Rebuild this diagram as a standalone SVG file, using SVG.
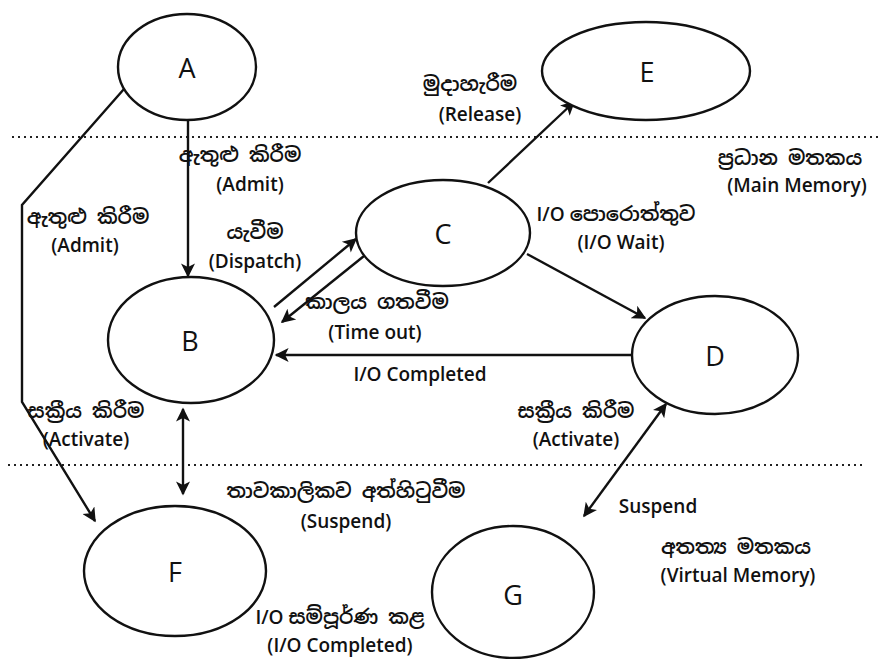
<svg xmlns="http://www.w3.org/2000/svg" width="879" height="659" viewBox="0 0 879 659">
  <defs>
    <marker id="arr" viewBox="0 0 10 10" refX="9" refY="5" markerWidth="16" markerHeight="14" orient="auto-start-reverse" markerUnits="userSpaceOnUse">
      <path d="M0,0 L10,5 L0,10 L2.5,5 z" fill="#111"/>
    </marker>
    <style>
      .node ellipse { fill: #fff; stroke: #111; stroke-width: 2.4; }
      .node text { font-family: "Open Sans", "Noto Sans", "Liberation Sans", sans-serif; font-size: 27px; font-weight: 500; fill: #111; text-anchor: middle; dominant-baseline: central; }
      .edge { fill: none; stroke: #111; stroke-width: 2.4; }
      .lbl { font-family: "Open Sans", "Noto Sans", "Noto Sans Sinhala", "Liberation Sans", sans-serif; font-size: 19px; font-weight: 600; fill: #111; text-anchor: middle; }
      .si { font-family: "Noto Sans Sinhala", "Noto Serif Sinhala", "Iskoola Pota", "Noto Sans", sans-serif; font-size: 20px; font-weight: 600; }
      .sep { stroke: #222; stroke-width: 1.8; stroke-dasharray: 2 4; }
    </style>
  </defs>
  <rect width="879" height="659" fill="#fff"/>

  <!-- memory boundaries -->
  <line class="sep" x1="12" y1="137" x2="879" y2="137"/>
  <line class="sep" x1="8" y1="465" x2="862" y2="465"/>

  <!-- connectors -->
  <g id="edges">
    <line class="edge" x1="188" y1="120" x2="188" y2="276" marker-end="url(#arr)"/>
    <polyline class="edge" points="124,89 22,205 22,402 95,521" marker-end="url(#arr)"/>
    <line class="edge" x1="274" y1="307" x2="356" y2="239" marker-end="url(#arr)"/>
    <line class="edge" x1="364" y1="256" x2="282" y2="322" marker-end="url(#arr)"/>
    <line class="edge" x1="488" y1="183" x2="574" y2="102" marker-end="url(#arr)"/>
    <line class="edge" x1="527" y1="254" x2="645" y2="318" marker-end="url(#arr)"/>
    <line class="edge" x1="632" y1="355" x2="276" y2="355" marker-end="url(#arr)"/>
    <line class="edge" x1="183" y1="409" x2="183" y2="494" marker-start="url(#arr)" marker-end="url(#arr)"/>
    <line class="edge" x1="666" y1="404" x2="584" y2="516" marker-start="url(#arr)" marker-end="url(#arr)"/>
  </g>

  <!-- states -->
  <g id="A" class="node"><ellipse cx="187" cy="67" rx="69" ry="53"/><text x="187" y="67">A</text></g>
  <g id="E" class="node"><ellipse cx="646" cy="71" rx="104" ry="49"/><text x="647" y="71">E</text></g>
  <g id="C" class="node"><ellipse cx="443" cy="233" rx="87" ry="53"/><text x="443" y="233">C</text></g>
  <g id="B" class="node"><ellipse cx="191" cy="340" rx="83" ry="63"/><text x="190" y="340">B</text></g>
  <g id="D" class="node"><ellipse cx="715" cy="355" rx="83" ry="59"/><text x="715" y="355">D</text></g>
  <g id="F" class="node"><ellipse cx="175" cy="571" rx="91" ry="65"/><text x="175" y="571">F</text></g>
  <g id="G" class="node"><ellipse cx="513" cy="592" rx="81" ry="66"/><text x="513" y="594">G</text></g>

  <!-- labels -->
  <g id="labels">
    <text class="lbl si" x="240" y="162">ඇතුළු කිරීම</text>
    <text class="lbl" x="250" y="191">(Admit)</text>
    <text class="lbl si" x="88" y="224">ඇතුළු කිරීම</text>
    <text class="lbl" x="85" y="252">(Admit)</text>
    <text class="lbl si" x="470" y="91">මුදාහැරීම</text>
    <text class="lbl" x="480" y="121">(Release)</text>
    <text class="lbl si" x="790" y="165">ප්‍රධාන මතකය</text>
    <text class="lbl" x="797" y="192">(Main Memory)</text>
    <text class="lbl si" x="255" y="239">යැවීම</text>
    <text class="lbl" x="255" y="268">(Dispatch)</text>
    <text class="lbl" x="616" y="221">I/O <tspan class="si">පොරොත්තුව</tspan></text>
    <text class="lbl" x="621" y="249">(I/O Wait)</text>
    <text class="lbl si" x="377" y="309">කාලය ගතවීම</text>
    <text class="lbl" x="375" y="339">(Time out)</text>
    <text class="lbl" x="420" y="381">I/O Completed</text>
    <text class="lbl si" x="86" y="418">සක්‍රීය කිරීම</text>
    <text class="lbl" x="86" y="446">(Activate)</text>
    <text class="lbl si" x="576" y="418">සක්‍රීය කිරීම</text>
    <text class="lbl" x="576" y="446">(Activate)</text>
    <text class="lbl si" x="346" y="498">තාවකාලිකව අත්හිටුවීම</text>
    <text class="lbl" x="346" y="528">(Suspend)</text>
    <text class="lbl" x="658" y="513">Suspend</text>
    <text class="lbl si" x="736" y="554">අතත්‍ය මතකය</text>
    <text class="lbl" x="738" y="582">(Virtual Memory)</text>
    <text class="lbl" x="340" y="624">I/O <tspan class="si">සම්පූර්ණ කළ</tspan></text>
    <text class="lbl" x="340" y="652">(I/O Completed)</text>
  </g>
</svg>
